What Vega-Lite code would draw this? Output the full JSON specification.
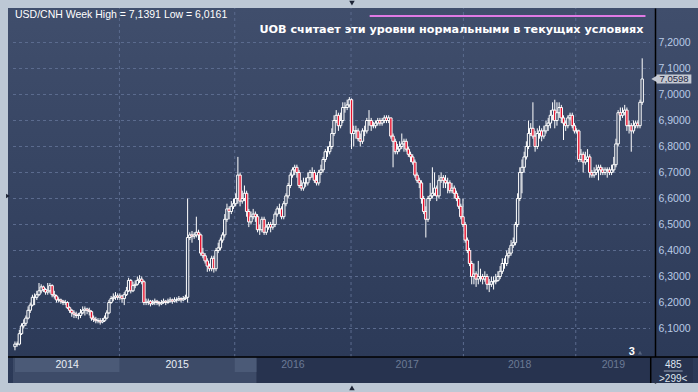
{
"$schema":"https://vega.github.io/schema/vega-lite/v6.json",
"autosize":{"type":"none"},
"width":690,"height":375,
"padding":{"left":8,"top":8,"right":0,"bottom":9},
"background":"#bdc8d5",
"config":{"view":{"stroke":null,"fill":{"gradient":"linear","x1":0,"y1":0,"x2":0,"y2":1,"stops":[{"offset":0,"color":"#404e6c"},{"offset":0.93,"color":"#2c3a58"},{"offset":1,"color":"#2b3957"}]}}},
"data":{"values":[{"k":1}]},
"resolve":{"axis":{"y":"independent","x":"independent"}},
"datasets":{
"candles":[
{"i":0,"o":6.03,"h":6.05,"l":6.0161,"c":6.04},{"i":1,"o":6.04,"h":6.05,"l":6.03,"c":6.04},{"i":2,"o":6.04,"h":6.095,"l":6.035,"c":6.08},{"i":3,"o":6.08,"h":6.12,"l":6.075,"c":6.11},{"i":4,"o":6.11,"h":6.135,"l":6.1,"c":6.12},{"i":5,"o":6.12,"h":6.15,"l":6.11,"c":6.14},{"i":6,"o":6.14,"h":6.185,"l":6.135,"c":6.17},{"i":7,"o":6.17,"h":6.2,"l":6.16,"c":6.19},{"i":8,"o":6.19,"h":6.23,"l":6.185,"c":6.22},{"i":9,"o":6.22,"h":6.235,"l":6.19,"c":6.22},
{"i":10,"o":6.22,"h":6.245,"l":6.21,"c":6.23},{"i":11,"o":6.23,"h":6.275,"l":6.225,"c":6.245},{"i":12,"o":6.245,"h":6.27,"l":6.235,"c":6.26},{"i":13,"o":6.26,"h":6.265,"l":6.24,"c":6.25},{"i":14,"o":6.25,"h":6.255,"l":6.23,"c":6.24},{"i":15,"o":6.24,"h":6.275,"l":6.23,"c":6.245},{"i":16,"o":6.245,"h":6.275,"l":6.235,"c":6.265},{"i":17,"o":6.265,"h":6.27,"l":6.22,"c":6.23},{"i":18,"o":6.23,"h":6.245,"l":6.215,"c":6.225},{"i":19,"o":6.225,"h":6.23,"l":6.2,"c":6.21},
{"i":20,"o":6.21,"h":6.22,"l":6.2,"c":6.21},{"i":21,"o":6.21,"h":6.215,"l":6.195,"c":6.205},{"i":22,"o":6.205,"h":6.21,"l":6.19,"c":6.2},{"i":23,"o":6.2,"h":6.21,"l":6.19,"c":6.2},{"i":24,"o":6.2,"h":6.205,"l":6.175,"c":6.18},{"i":25,"o":6.18,"h":6.185,"l":6.16,"c":6.17},{"i":26,"o":6.17,"h":6.175,"l":6.145,"c":6.16},{"i":27,"o":6.16,"h":6.17,"l":6.14,"c":6.155},{"i":28,"o":6.155,"h":6.165,"l":6.14,"c":6.15},{"i":29,"o":6.15,"h":6.16,"l":6.135,"c":6.15},
{"i":30,"o":6.15,"h":6.175,"l":6.14,"c":6.16},{"i":31,"o":6.16,"h":6.185,"l":6.155,"c":6.17},{"i":32,"o":6.17,"h":6.185,"l":6.15,"c":6.175},{"i":33,"o":6.175,"h":6.18,"l":6.155,"c":6.17},{"i":34,"o":6.17,"h":6.18,"l":6.15,"c":6.165},{"i":35,"o":6.165,"h":6.17,"l":6.13,"c":6.14},{"i":36,"o":6.14,"h":6.15,"l":6.125,"c":6.135},{"i":37,"o":6.135,"h":6.145,"l":6.12,"c":6.13},{"i":38,"o":6.13,"h":6.14,"l":6.12,"c":6.13},{"i":39,"o":6.13,"h":6.14,"l":6.115,"c":6.125},
{"i":40,"o":6.125,"h":6.14,"l":6.12,"c":6.13},{"i":41,"o":6.13,"h":6.15,"l":6.125,"c":6.14},{"i":42,"o":6.14,"h":6.17,"l":6.135,"c":6.16},{"i":43,"o":6.16,"h":6.21,"l":6.155,"c":6.2},{"i":44,"o":6.2,"h":6.225,"l":6.195,"c":6.215},{"i":45,"o":6.215,"h":6.235,"l":6.205,"c":6.22},{"i":46,"o":6.22,"h":6.24,"l":6.21,"c":6.225},{"i":47,"o":6.225,"h":6.235,"l":6.21,"c":6.22},{"i":48,"o":6.22,"h":6.235,"l":6.21,"c":6.225},{"i":49,"o":6.225,"h":6.23,"l":6.2,"c":6.215},
{"i":50,"o":6.215,"h":6.24,"l":6.19,"c":6.23},{"i":51,"o":6.23,"h":6.26,"l":6.225,"c":6.245},{"i":52,"o":6.245,"h":6.295,"l":6.24,"c":6.285},{"i":53,"o":6.285,"h":6.29,"l":6.235,"c":6.245},{"i":54,"o":6.245,"h":6.28,"l":6.24,"c":6.265},{"i":55,"o":6.265,"h":6.285,"l":6.255,"c":6.27},{"i":56,"o":6.27,"h":6.3,"l":6.265,"c":6.285},{"i":57,"o":6.285,"h":6.305,"l":6.275,"c":6.29},{"i":58,"o":6.29,"h":6.3,"l":6.27,"c":6.28},{"i":59,"o":6.28,"h":6.285,"l":6.19,"c":6.2},
{"i":60,"o":6.2,"h":6.215,"l":6.19,"c":6.2},{"i":61,"o":6.2,"h":6.215,"l":6.19,"c":6.205},{"i":62,"o":6.205,"h":6.21,"l":6.185,"c":6.195},{"i":63,"o":6.195,"h":6.21,"l":6.19,"c":6.2},{"i":64,"o":6.2,"h":6.215,"l":6.19,"c":6.205},{"i":65,"o":6.205,"h":6.21,"l":6.19,"c":6.2},{"i":66,"o":6.2,"h":6.205,"l":6.185,"c":6.195},{"i":67,"o":6.195,"h":6.21,"l":6.19,"c":6.2},{"i":68,"o":6.2,"h":6.215,"l":6.195,"c":6.205},{"i":69,"o":6.205,"h":6.21,"l":6.19,"c":6.2},
{"i":70,"o":6.2,"h":6.215,"l":6.195,"c":6.205},{"i":71,"o":6.205,"h":6.22,"l":6.2,"c":6.21},{"i":72,"o":6.21,"h":6.215,"l":6.195,"c":6.205},{"i":73,"o":6.205,"h":6.22,"l":6.2,"c":6.21},{"i":74,"o":6.21,"h":6.22,"l":6.2,"c":6.21},{"i":75,"o":6.21,"h":6.225,"l":6.205,"c":6.215},{"i":76,"o":6.215,"h":6.22,"l":6.2,"c":6.21},{"i":77,"o":6.21,"h":6.225,"l":6.205,"c":6.215},{"i":78,"o":6.215,"h":6.23,"l":6.21,"c":6.22},{"i":79,"o":6.22,"h":6.6,"l":6.2,"c":6.45},
{"i":80,"o":6.45,"h":6.47,"l":6.44,"c":6.46},{"i":81,"o":6.46,"h":6.475,"l":6.43,"c":6.455},{"i":82,"o":6.455,"h":6.47,"l":6.445,"c":6.46},{"i":83,"o":6.46,"h":6.53,"l":6.45,"c":6.47},{"i":84,"o":6.47,"h":6.48,"l":6.44,"c":6.46},{"i":85,"o":6.46,"h":6.465,"l":6.38,"c":6.39},{"i":86,"o":6.39,"h":6.41,"l":6.37,"c":6.38},{"i":87,"o":6.38,"h":6.39,"l":6.35,"c":6.36},{"i":88,"o":6.36,"h":6.37,"l":6.318,"c":6.34},{"i":89,"o":6.34,"h":6.35,"l":6.32,"c":6.33},
{"i":90,"o":6.33,"h":6.38,"l":6.32,"c":6.37},{"i":91,"o":6.37,"h":6.38,"l":6.315,"c":6.33},{"i":92,"o":6.33,"h":6.41,"l":6.32,"c":6.4},{"i":93,"o":6.4,"h":6.43,"l":6.39,"c":6.41},{"i":94,"o":6.41,"h":6.45,"l":6.4,"c":6.44},{"i":95,"o":6.44,"h":6.47,"l":6.43,"c":6.46},{"i":96,"o":6.46,"h":6.54,"l":6.45,"c":6.52},{"i":97,"o":6.52,"h":6.58,"l":6.51,"c":6.56},{"i":98,"o":6.56,"h":6.57,"l":6.52,"c":6.55},{"i":99,"o":6.55,"h":6.59,"l":6.54,"c":6.57},
{"i":100,"o":6.57,"h":6.6,"l":6.56,"c":6.58},{"i":101,"o":6.58,"h":6.62,"l":6.57,"c":6.6},{"i":102,"o":6.6,"h":6.76,"l":6.58,"c":6.69},{"i":103,"o":6.69,"h":6.7,"l":6.57,"c":6.59},{"i":104,"o":6.59,"h":6.63,"l":6.58,"c":6.6},{"i":105,"o":6.6,"h":6.65,"l":6.59,"c":6.62},{"i":106,"o":6.62,"h":6.63,"l":6.53,"c":6.55},{"i":107,"o":6.55,"h":6.56,"l":6.49,"c":6.51},{"i":108,"o":6.51,"h":6.55,"l":6.5,"c":6.53},{"i":109,"o":6.53,"h":6.56,"l":6.52,"c":6.54},
{"i":110,"o":6.54,"h":6.55,"l":6.51,"c":6.53},{"i":111,"o":6.53,"h":6.54,"l":6.47,"c":6.48},{"i":112,"o":6.48,"h":6.5,"l":6.46,"c":6.48},{"i":113,"o":6.48,"h":6.53,"l":6.47,"c":6.52},{"i":114,"o":6.52,"h":6.53,"l":6.46,"c":6.47},{"i":115,"o":6.47,"h":6.5,"l":6.46,"c":6.49},{"i":116,"o":6.49,"h":6.51,"l":6.48,"c":6.5},{"i":117,"o":6.5,"h":6.51,"l":6.47,"c":6.49},{"i":118,"o":6.49,"h":6.52,"l":6.48,"c":6.5},{"i":119,"o":6.5,"h":6.55,"l":6.49,"c":6.54},
{"i":120,"o":6.54,"h":6.57,"l":6.53,"c":6.56},{"i":121,"o":6.56,"h":6.58,"l":6.54,"c":6.56},{"i":122,"o":6.56,"h":6.57,"l":6.52,"c":6.53},{"i":123,"o":6.53,"h":6.59,"l":6.52,"c":6.58},{"i":124,"o":6.58,"h":6.62,"l":6.57,"c":6.61},{"i":125,"o":6.61,"h":6.66,"l":6.6,"c":6.65},{"i":126,"o":6.65,"h":6.7,"l":6.64,"c":6.69},{"i":127,"o":6.69,"h":6.72,"l":6.68,"c":6.71},{"i":128,"o":6.71,"h":6.73,"l":6.69,"c":6.72},{"i":129,"o":6.72,"h":6.73,"l":6.68,"c":6.7},
{"i":130,"o":6.7,"h":6.71,"l":6.64,"c":6.65},{"i":131,"o":6.65,"h":6.67,"l":6.63,"c":6.64},{"i":132,"o":6.64,"h":6.68,"l":6.63,"c":6.66},{"i":133,"o":6.66,"h":6.68,"l":6.645,"c":6.66},{"i":134,"o":6.66,"h":6.7,"l":6.65,"c":6.68},{"i":135,"o":6.68,"h":6.71,"l":6.67,"c":6.7},{"i":136,"o":6.7,"h":6.72,"l":6.68,"c":6.7},{"i":137,"o":6.7,"h":6.71,"l":6.66,"c":6.67},{"i":138,"o":6.67,"h":6.69,"l":6.65,"c":6.66},{"i":139,"o":6.66,"h":6.71,"l":6.65,"c":6.7},
{"i":140,"o":6.7,"h":6.73,"l":6.69,"c":6.71},{"i":141,"o":6.71,"h":6.76,"l":6.7,"c":6.75},{"i":142,"o":6.75,"h":6.79,"l":6.74,"c":6.78},{"i":143,"o":6.78,"h":6.8,"l":6.76,"c":6.78},{"i":144,"o":6.78,"h":6.82,"l":6.77,"c":6.8},{"i":145,"o":6.8,"h":6.87,"l":6.79,"c":6.85},{"i":146,"o":6.85,"h":6.92,"l":6.84,"c":6.9},{"i":147,"o":6.9,"h":6.94,"l":6.89,"c":6.92},{"i":148,"o":6.92,"h":6.93,"l":6.86,"c":6.88},{"i":149,"o":6.88,"h":6.93,"l":6.87,"c":6.9},
{"i":150,"o":6.9,"h":6.97,"l":6.89,"c":6.95},{"i":151,"o":6.95,"h":6.97,"l":6.93,"c":6.95},{"i":152,"o":6.95,"h":6.98,"l":6.94,"c":6.96},{"i":153,"o":6.96,"h":6.99,"l":6.95,"c":6.98},{"i":154,"o":6.98,"h":6.985,"l":6.79,"c":6.85},{"i":155,"o":6.85,"h":6.88,"l":6.8,"c":6.86},{"i":156,"o":6.86,"h":6.88,"l":6.83,"c":6.86},{"i":157,"o":6.86,"h":6.87,"l":6.82,"c":6.83},{"i":158,"o":6.83,"h":6.85,"l":6.8,"c":6.82},{"i":159,"o":6.82,"h":6.87,"l":6.81,"c":6.86},
{"i":160,"o":6.86,"h":6.88,"l":6.84,"c":6.86},{"i":161,"o":6.86,"h":6.91,"l":6.85,"c":6.9},{"i":162,"o":6.9,"h":6.94,"l":6.88,"c":6.9},{"i":163,"o":6.9,"h":6.91,"l":6.86,"c":6.88},{"i":164,"o":6.88,"h":6.895,"l":6.87,"c":6.88},{"i":165,"o":6.88,"h":6.9,"l":6.87,"c":6.89},{"i":166,"o":6.89,"h":6.91,"l":6.88,"c":6.9},{"i":167,"o":6.9,"h":6.91,"l":6.88,"c":6.89},{"i":168,"o":6.89,"h":6.91,"l":6.88,"c":6.9},{"i":169,"o":6.9,"h":6.92,"l":6.89,"c":6.91},
{"i":170,"o":6.91,"h":6.92,"l":6.89,"c":6.9},{"i":171,"o":6.9,"h":6.92,"l":6.89,"c":6.91},{"i":172,"o":6.91,"h":6.91,"l":6.83,"c":6.84},{"i":173,"o":6.84,"h":6.85,"l":6.72,"c":6.82},{"i":174,"o":6.82,"h":6.83,"l":6.77,"c":6.78},{"i":175,"o":6.78,"h":6.81,"l":6.77,"c":6.79},{"i":176,"o":6.79,"h":6.82,"l":6.78,"c":6.8},{"i":177,"o":6.8,"h":6.85,"l":6.79,"c":6.81},{"i":178,"o":6.81,"h":6.83,"l":6.78,"c":6.82},{"i":179,"o":6.82,"h":6.83,"l":6.78,"c":6.79},
{"i":180,"o":6.79,"h":6.8,"l":6.76,"c":6.77},{"i":181,"o":6.77,"h":6.78,"l":6.74,"c":6.76},{"i":182,"o":6.76,"h":6.77,"l":6.73,"c":6.74},{"i":183,"o":6.74,"h":6.75,"l":6.68,"c":6.69},{"i":184,"o":6.69,"h":6.7,"l":6.66,"c":6.67},{"i":185,"o":6.67,"h":6.68,"l":6.64,"c":6.66},{"i":186,"o":6.66,"h":6.67,"l":6.58,"c":6.6},{"i":187,"o":6.6,"h":6.61,"l":6.54,"c":6.55},{"i":188,"o":6.55,"h":6.57,"l":6.45,"c":6.52},{"i":189,"o":6.52,"h":6.61,"l":6.51,"c":6.6},
{"i":190,"o":6.6,"h":6.66,"l":6.59,"c":6.61},{"i":191,"o":6.61,"h":6.72,"l":6.6,"c":6.62},{"i":192,"o":6.62,"h":6.7,"l":6.61,"c":6.64},{"i":193,"o":6.64,"h":6.65,"l":6.59,"c":6.61},{"i":194,"o":6.61,"h":6.69,"l":6.6,"c":6.67},{"i":195,"o":6.67,"h":6.7,"l":6.66,"c":6.68},{"i":196,"o":6.68,"h":6.69,"l":6.64,"c":6.67},{"i":197,"o":6.67,"h":6.69,"l":6.64,"c":6.66},{"i":198,"o":6.66,"h":6.68,"l":6.62,"c":6.66},{"i":199,"o":6.66,"h":6.67,"l":6.62,"c":6.63},
{"i":200,"o":6.63,"h":6.66,"l":6.62,"c":6.64},{"i":201,"o":6.64,"h":6.65,"l":6.6,"c":6.62},{"i":202,"o":6.62,"h":6.63,"l":6.59,"c":6.6},{"i":203,"o":6.6,"h":6.61,"l":6.56,"c":6.57},{"i":204,"o":6.57,"h":6.58,"l":6.52,"c":6.53},{"i":205,"o":6.53,"h":6.6,"l":6.49,"c":6.5},{"i":206,"o":6.5,"h":6.51,"l":6.43,"c":6.44},{"i":207,"o":6.44,"h":6.45,"l":6.39,"c":6.4},{"i":208,"o":6.4,"h":6.41,"l":6.34,"c":6.35},{"i":209,"o":6.35,"h":6.36,"l":6.27,"c":6.3},
{"i":210,"o":6.3,"h":6.35,"l":6.27,"c":6.31},{"i":211,"o":6.31,"h":6.32,"l":6.26,"c":6.29},{"i":212,"o":6.29,"h":6.36,"l":6.27,"c":6.3},{"i":213,"o":6.3,"h":6.33,"l":6.28,"c":6.3},{"i":214,"o":6.3,"h":6.31,"l":6.27,"c":6.29},{"i":215,"o":6.29,"h":6.32,"l":6.28,"c":6.3},{"i":216,"o":6.3,"h":6.31,"l":6.25,"c":6.27},{"i":217,"o":6.27,"h":6.29,"l":6.24,"c":6.27},{"i":218,"o":6.27,"h":6.3,"l":6.26,"c":6.28},{"i":219,"o":6.28,"h":6.3,"l":6.25,"c":6.28},
{"i":220,"o":6.28,"h":6.31,"l":6.27,"c":6.285},{"i":221,"o":6.285,"h":6.32,"l":6.28,"c":6.3},{"i":222,"o":6.3,"h":6.34,"l":6.29,"c":6.32},{"i":223,"o":6.32,"h":6.37,"l":6.31,"c":6.35},{"i":224,"o":6.35,"h":6.37,"l":6.33,"c":6.35},{"i":225,"o":6.35,"h":6.4,"l":6.34,"c":6.38},{"i":226,"o":6.38,"h":6.41,"l":6.37,"c":6.39},{"i":227,"o":6.39,"h":6.44,"l":6.38,"c":6.42},{"i":228,"o":6.42,"h":6.45,"l":6.41,"c":6.43},{"i":229,"o":6.43,"h":6.51,"l":6.42,"c":6.5},
{"i":230,"o":6.5,"h":6.62,"l":6.49,"c":6.6},{"i":231,"o":6.6,"h":6.72,"l":6.59,"c":6.7},{"i":232,"o":6.7,"h":6.75,"l":6.62,"c":6.72},{"i":233,"o":6.72,"h":6.78,"l":6.7,"c":6.76},{"i":234,"o":6.76,"h":6.82,"l":6.75,"c":6.8},{"i":235,"o":6.8,"h":6.9,"l":6.79,"c":6.85},{"i":236,"o":6.85,"h":6.89,"l":6.84,"c":6.87},{"i":237,"o":6.87,"h":6.97,"l":6.83,"c":6.84},{"i":238,"o":6.84,"h":6.86,"l":6.78,"c":6.8},{"i":239,"o":6.8,"h":6.87,"l":6.79,"c":6.85},
{"i":240,"o":6.85,"h":6.88,"l":6.83,"c":6.86},{"i":241,"o":6.86,"h":6.87,"l":6.82,"c":6.84},{"i":242,"o":6.84,"h":6.88,"l":6.83,"c":6.86},{"i":243,"o":6.86,"h":6.9,"l":6.85,"c":6.88},{"i":244,"o":6.88,"h":6.91,"l":6.86,"c":6.89},{"i":245,"o":6.89,"h":6.94,"l":6.87,"c":6.92},{"i":246,"o":6.92,"h":6.97,"l":6.9,"c":6.94},{"i":247,"o":6.94,"h":6.98,"l":6.87,"c":6.9},{"i":248,"o":6.9,"h":6.97,"l":6.88,"c":6.93},{"i":249,"o":6.93,"h":6.97,"l":6.91,"c":6.95},
{"i":250,"o":6.95,"h":6.96,"l":6.89,"c":6.91},{"i":251,"o":6.91,"h":6.92,"l":6.825,"c":6.89},{"i":252,"o":6.89,"h":6.9,"l":6.86,"c":6.88},{"i":253,"o":6.88,"h":6.92,"l":6.87,"c":6.91},{"i":254,"o":6.91,"h":6.93,"l":6.9,"c":6.92},{"i":255,"o":6.92,"h":6.93,"l":6.87,"c":6.88},{"i":256,"o":6.88,"h":6.89,"l":6.85,"c":6.86},{"i":257,"o":6.86,"h":6.87,"l":6.85,"c":6.86},{"i":258,"o":6.86,"h":6.865,"l":6.74,"c":6.75},{"i":259,"o":6.75,"h":6.79,"l":6.74,"c":6.77},
{"i":260,"o":6.77,"h":6.78,"l":6.7,"c":6.74},{"i":261,"o":6.74,"h":6.78,"l":6.73,"c":6.75},{"i":262,"o":6.75,"h":6.79,"l":6.74,"c":6.76},{"i":263,"o":6.76,"h":6.77,"l":6.68,"c":6.7},{"i":264,"o":6.7,"h":6.71,"l":6.68,"c":6.69},{"i":265,"o":6.69,"h":6.72,"l":6.68,"c":6.7},{"i":266,"o":6.7,"h":6.73,"l":6.69,"c":6.71},{"i":267,"o":6.71,"h":6.73,"l":6.67,"c":6.72},{"i":268,"o":6.72,"h":6.73,"l":6.69,"c":6.71},{"i":269,"o":6.71,"h":6.72,"l":6.69,"c":6.7},
{"i":270,"o":6.7,"h":6.72,"l":6.69,"c":6.71},{"i":271,"o":6.71,"h":6.72,"l":6.68,"c":6.71},{"i":272,"o":6.71,"h":6.72,"l":6.69,"c":6.7},{"i":273,"o":6.7,"h":6.73,"l":6.69,"c":6.71},{"i":274,"o":6.71,"h":6.76,"l":6.7,"c":6.73},{"i":275,"o":6.73,"h":6.83,"l":6.72,"c":6.81},{"i":276,"o":6.81,"h":6.94,"l":6.8,"c":6.93},{"i":277,"o":6.93,"h":6.95,"l":6.9,"c":6.92},{"i":278,"o":6.92,"h":6.95,"l":6.91,"c":6.93},{"i":279,"o":6.93,"h":6.96,"l":6.92,"c":6.94},
{"i":280,"o":6.94,"h":6.95,"l":6.86,"c":6.88},{"i":281,"o":6.88,"h":6.9,"l":6.85,"c":6.88},{"i":282,"o":6.88,"h":6.89,"l":6.78,"c":6.86},{"i":283,"o":6.86,"h":6.9,"l":6.85,"c":6.88},{"i":284,"o":6.88,"h":6.9,"l":6.87,"c":6.89},{"i":285,"o":6.89,"h":6.9,"l":6.87,"c":6.88},{"i":286,"o":6.88,"h":6.98,"l":6.87,"c":6.97},{"i":287,"o":6.97,"h":7.1391,"l":6.96,"c":7.0598}
],
"years":[
{"yr":"2014","s":-0.1,"e":47.8,"m":23.9},{"yr":"2015","s":47.8,"e":100.56,"m":74.2},{"yr":"2016","s":100.56,"e":153.77,"m":127.2},{"yr":"2017","s":153.77,"e":205.2,"m":179.5},{"yr":"2018","s":205.2,"e":256.6,"m":230.9},{"yr":"2019","s":256.6,"e":290.9,"m":273.8}
],
"lightcells":[{"s":0,"e":47.8},{"s":100.56,"e":110.5}],
"levels":[{"v":6.1},{"v":6.2},{"v":6.3},{"v":6.4},{"v":6.5},{"v":6.6},{"v":6.7},{"v":6.8},{"v":6.9},{"v":7.0},{"v":7.1},{"v":7.2}],
"last":[{"price":7.0598,"label":"7,0598"}]
},
"layer":[
{"mark":{"type":"rect","fill":"#27334f"},
 "encoding":{"x":{"datum":-0.9,"type":"quantitative","scale":{"domain":[-0.9,310.25],"nice":false,"zero":false},"axis":null},"x2":{"datum":310.25},
 "y":{"datum":5.8904,"type":"quantitative","scale":{"domain":[5.8904,7.3327],"nice":false,"zero":false},
  "axis":{"orient":"right","offset":-43,"zindex":0,"values":[6.1,6.2,6.3,6.4,6.5,6.6,6.7,6.8,6.9,7.0,7.1,7.2],"format":".4f","labelExpr":"replace(datum.label, '.', ',')","title":null,"grid":false,"ticks":false,"domain":true,"domainColor":"#000000","domainWidth":1.5,"labelColor":"#b9cbe6","labelFont":"Liberation Sans","labelFontSize":10.5,"labelPadding":3,"labelBaseline":"middle"}},"y2":{"datum":5.9904}}},
{"mark":{"type":"rect","fill":"#3d4b68"},
 "encoding":{"x":{"datum":-0.9,"type":"quantitative","axis":null},"x2":{"datum":110.5},"y":{"datum":5.8904,"type":"quantitative","axis":null},"y2":{"datum":5.9904}}},
{"data":{"name":"lightcells"},"mark":{"type":"rect","fill":"#4b5a77"},
 "encoding":{"x":{"field":"s","type":"quantitative","axis":null},"x2":{"field":"e"},"y":{"datum":5.9327,"type":"quantitative","axis":null},"y2":{"datum":5.9865}}},
{"mark":{"type":"rule","color":"#000000","strokeWidth":1.5},
 "encoding":{"x":{"datum":290.9,"type":"quantitative","axis":null},"y":{"datum":5.8904,"type":"quantitative","axis":null},"y2":{"datum":5.9904}}},
{"data":{"name":"levels"},"mark":{"type":"rule","color":"#5b6b8e","strokeDash":[3,3],"strokeWidth":1},
 "encoding":{"x":{"datum":-0.9,"type":"quantitative","axis":null},"x2":{"datum":290.6},"y":{"field":"v","type":"quantitative","axis":null}}},
{"data":{"name":"years"},"transform":[{"filter":"datum.s > 0"}],"mark":{"type":"rule","color":"#5b6b8e","strokeDash":[3,3],"strokeWidth":1},
 "encoding":{"x":{"field":"s","type":"quantitative","axis":null},"y":{"datum":5.9904,"type":"quantitative","axis":null},"y2":{"datum":7.3327}}},
{"mark":{"type":"rule","color":"#000000","strokeWidth":1.5},"encoding":{"y":{"datum":5.9904,"type":"quantitative","axis":null}}},
{"data":{"name":"candles"},"mark":{"type":"rule","color":"#ffffff","strokeWidth":1},
 "encoding":{"x":{"field":"i","type":"quantitative","axis":null},"y":{"field":"l","type":"quantitative","axis":null},"y2":{"field":"h"}}},
{"data":{"name":"candles"},"mark":{"type":"bar","width":2.4,"stroke":"#ffffff","strokeWidth":1},
 "encoding":{"x":{"field":"i","type":"quantitative","axis":null},"y":{"field":"o","type":"quantitative","axis":null},"y2":{"field":"c"},
 "fill":{"condition":{"test":"datum.c < datum.o","value":"#e5102c"},"value":"#35435f"}}},
{"mark":{"type":"rule","color":"#e07ae4","strokeWidth":2},
 "encoding":{"x":{"datum":162.3,"type":"quantitative","axis":null},"x2":{"datum":288.5},"y":{"datum":7.302,"type":"quantitative","axis":null}}},
{"mark":{"type":"text","text":"USD/CNH Week High = 7,1391 Low = 6,0161","align":"left","baseline":"middle","font":"Liberation Sans","fontSize":10.5,"color":"#ffffff"},
 "encoding":{"x":{"datum":0,"type":"quantitative","axis":null},"y":{"datum":7.3058,"type":"quantitative","axis":null}}},
{"mark":{"type":"text","text":"UOB считает эти уровни нормальными в текущих условиях","align":"right","baseline":"middle","font":"DejaVu Sans","fontSize":11.2,"fontWeight":"bold","color":"#ffffff"},
 "encoding":{"x":{"datum":287.6,"type":"quantitative","axis":null},"y":{"datum":7.248,"type":"quantitative","axis":null}}},
{"data":{"name":"years"},"mark":{"type":"text","align":"center","baseline":"middle","font":"Liberation Sans","fontSize":10.5},
 "encoding":{"x":{"field":"m","type":"quantitative","axis":null},"y":{"datum":5.9596,"type":"quantitative","axis":null},"text":{"field":"yr"},
 "color":{"condition":{"test":"datum.m < 110","value":"#e8eef6"},"value":"#6b7a95"}}},
{"mark":{"type":"rect","fill":"#c5c9d2"},
 "encoding":{"x":{"datum":293.6,"type":"quantitative","axis":null},"x2":{"datum":309.5},"y":{"datum":7.0425,"type":"quantitative","axis":null},"y2":{"datum":7.0771}}},
{"data":{"name":"last"},"mark":{"type":"point","shape":"triangle-left","filled":true,"color":"#c5c9d2","size":45,"opacity":1},
 "encoding":{"x":{"datum":292.5,"type":"quantitative","axis":null},"y":{"field":"price","type":"quantitative","axis":null}}},
{"data":{"name":"last"},"mark":{"type":"text","align":"center","baseline":"middle","font":"Liberation Sans","fontSize":9.5,"color":"#1b2440"},
 "encoding":{"x":{"datum":301.6,"type":"quantitative","axis":null},"y":{"field":"price","type":"quantitative","axis":null},"text":{"field":"label"}}},
{"mark":{"type":"text","text":"3","align":"center","baseline":"middle","font":"Liberation Sans","fontSize":11,"fontWeight":"bold","color":"#ffffff"},
 "encoding":{"x":{"datum":282.3,"type":"quantitative","axis":null},"y":{"datum":6.0096,"type":"quantitative","axis":null}}},
{"mark":{"type":"point","shape":"triangle-up","filled":true,"color":"#56647e","size":18,"opacity":1},
 "encoding":{"x":{"datum":286.0,"type":"quantitative","axis":null},"y":{"datum":6.0075,"type":"quantitative","axis":null}}},
{"mark":{"type":"text","text":"485","align":"center","baseline":"middle","font":"Liberation Sans","fontSize":10,"color":"#dfe6f0"},
 "encoding":{"x":{"datum":301.2,"type":"quantitative","axis":null},"y":{"datum":5.9615,"type":"quantitative","axis":null}}},
{"mark":{"type":"rule","color":"#9aa6ba","strokeWidth":1},
 "encoding":{"x":{"datum":296.9,"type":"quantitative","axis":null},"x2":{"datum":305.5},"y":{"datum":5.9365,"type":"quantitative","axis":null}}},
{"mark":{"type":"text","text":">299<","align":"center","baseline":"middle","font":"Liberation Sans","fontSize":10,"color":"#dfe6f0"},
 "encoding":{"x":{"datum":301.2,"type":"quantitative","axis":null},"y":{"datum":5.9076,"type":"quantitative","axis":null}}},
{"mark":{"type":"point","shape":"triangle-down","filled":true,"color":"#1d2436","size":30,"opacity":1},
 "encoding":{"x":{"datum":154.2,"type":"quantitative","axis":null},"y":{"datum":7.3519,"type":"quantitative","axis":null}}},
{"mark":{"type":"point","shape":"triangle-up","filled":true,"color":"#1d2436","size":30,"opacity":1},
 "encoding":{"x":{"datum":154.2,"type":"quantitative","axis":null},"y":{"datum":5.8712,"type":"quantitative","axis":null}}},
{"mark":{"type":"point","shape":"triangle-right","filled":true,"color":"#1d2436","size":20,"opacity":1},
 "encoding":{"x":{"datum":-3.2,"type":"quantitative","axis":null},"y":{"datum":6.6096,"type":"quantitative","axis":null}}}
]
}
